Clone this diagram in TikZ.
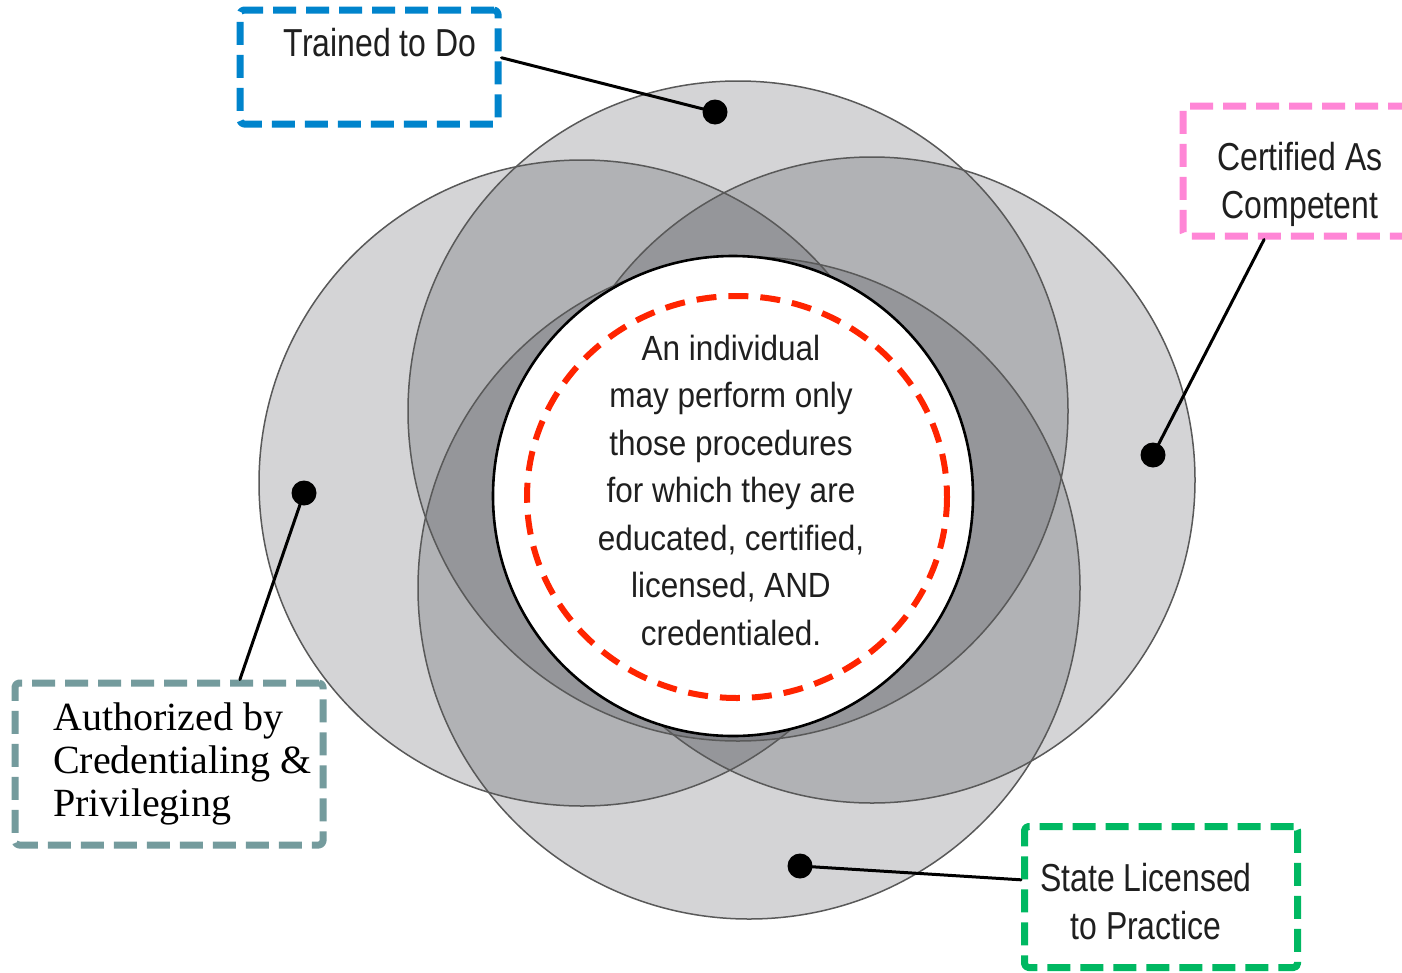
\documentclass[tikz,border=0pt]{standalone}
\usepackage{fontspec}
\usepackage{xcolor}
\newfontfamily\tagfont[FakeStretch=0.82]{Liberation Sans}
\newfontfamily\corefont[FakeStretch=0.9]{Liberation Sans}
\newfontfamily\bookfont{Liberation Serif}
\definecolor{ringgray}{RGB}{40,42,50}
\definecolor{trainblue}{RGB}{0,132,204}
\definecolor{certpink}{RGB}{255,134,214}
\definecolor{credteal}{RGB}{116,155,157}
\definecolor{stategreen}{RGB}{0,184,98}
\definecolor{corered}{RGB}{255,36,0}

\begin{document}
\begin{tikzpicture}[
    x=1pt, y=-1pt,
    ring/.style = {fill=ringgray, fill opacity=0.2},
    rim/.style = {draw=black!65, line width=1.5pt},
    core/.style = {circle, fill=white, draw=black, line width=2.6pt, minimum size=480pt, inner sep=0pt},
    coredash/.style = {draw=corered, line width=6pt, dash pattern=on 20pt off 12pt},
    tagbox/.style = {rectangle, fill=white, line width=7pt, dash pattern=on 23pt off 10pt, rounded corners=4pt, inner sep=0pt},
    tagtext/.style = {align=center, inner sep=0pt, text=black!88, font={\tagfont\fontsize{39}{48}\selectfont}},
    booktext/.style = {align=left, inner sep=0pt, text=black, font={\bookfont\fontsize{40}{43}\selectfont}},
    dot/.style = {circle, fill=black, inner sep=0pt, minimum size=25pt},
    leader/.style = {draw=black, line width=3pt, line cap=round},
    line join=round
]

% Page
\path[use as bounding box, fill=white] (0,0) rectangle (1402,972);

% Four overlapping rings
\fill[ring] (738,411) circle[radius=330];
\fill[ring] (582,483) circle[radius=323];
\fill[ring] (872,480) circle[radius=323];
\fill[ring] (749,588) circle[radius=331];
\draw[rim] (738,411) circle[radius=330];
\draw[rim] (582,483) circle[radius=323];
\draw[rim] (872,480) circle[radius=323];
\draw[rim] (749,588) circle[radius=331];

% Centre
\node[core] (core) at (733,496) {};
\draw[coredash] (737,497) ellipse[x radius=210, y radius=201];
\node[align=center, inner sep=0pt, text=black!88, font={\corefont\fontsize{35}{47.5}\selectfont}] (rule) at (731,490) {
    An individual\\
    may perform only\\
    those procedures\\
    for which they are\\
    educated, certified,\\
    licensed, AND\\
    credentialed.
};

% Label boxes
\node[tagbox, draw=trainblue, minimum width=258pt, minimum height=114pt] (trained) at (369,67) {};
\node[tagtext] (trainedtext) at (380,43) {Trained to Do};

\node[tagbox, draw=certpink, minimum width=232pt, minimum height=130pt] (certified) at (1299,171) {};
\node[tagtext] (certifiedtext) at (1300,184) {Certified As\\Competent};

\node[tagbox, draw=credteal, minimum width=308pt, minimum height=162pt] (authorized) at (169,764) {};
\node[booktext, anchor=west] (authorizedtext) at (53,764) {Authorized by\\Credentialing \&\\Privileging};

\node[tagbox, draw=stategreen, minimum width=273pt, minimum height=141pt] (state) at (1161,897) {};
\node[tagtext] (statetext) at (1146,902) {State Licensed\\to Practice};

% Dots on the rings
\node[dot] (trainedpt) at (715,112) {};
\node[dot] (certifiedpt) at (1153,455) {};
\node[dot] (authorizedpt) at (304,493) {};
\node[dot] (statept) at (800,866) {};

% Leaders
\draw[leader] (trainedpt.center) -- (trained.4);
\draw[leader] (certifiedpt.center) -- (certified.-117);
\draw[leader] (authorizedpt.center) -- (authorized.50);
\draw[leader] (statept.center) -- (state.173);

\end{tikzpicture}
\end{document}
